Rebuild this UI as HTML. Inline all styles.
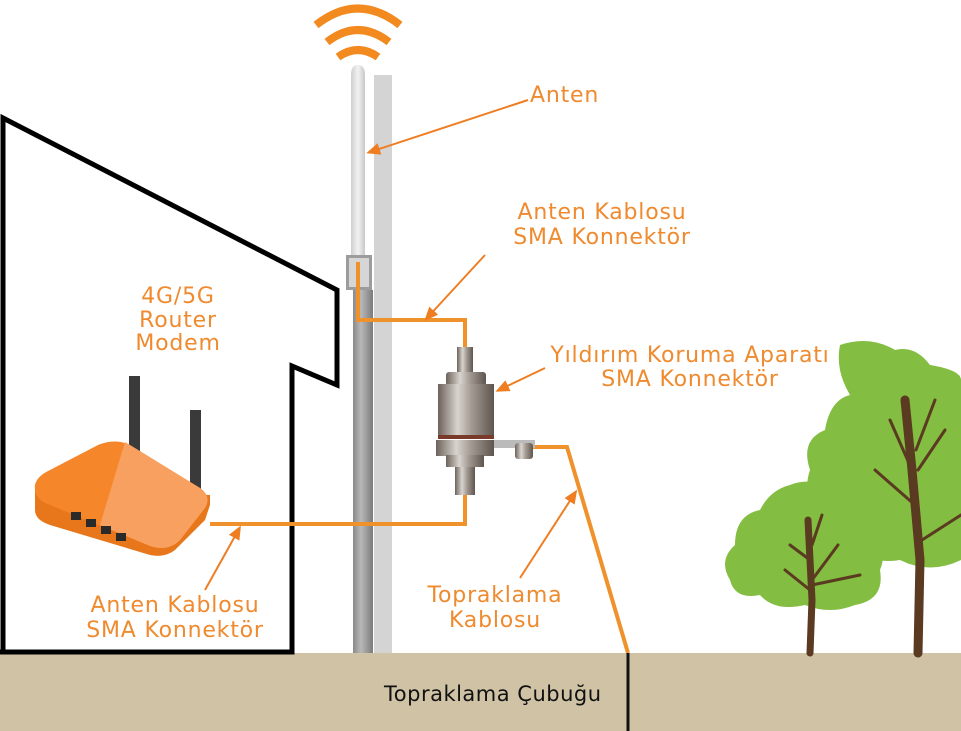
<!DOCTYPE html>
<html><head><meta charset="utf-8"><style>
html,body{margin:0;padding:0;background:#fff;width:961px;height:731px;overflow:hidden}
svg{display:block}
text{font-family:"DejaVu Sans","Liberation Sans",sans-serif}
.o{fill:#ef8a2e;font-size:22px;letter-spacing:0.8px}
</style></head><body>
<svg width="961" height="731" viewBox="0 0 961 731">
<defs>
<linearGradient id="mast" x1="0" x2="1"><stop offset="0" stop-color="#8a8a8a"/><stop offset="0.4" stop-color="#b8b8b8"/><stop offset="0.7" stop-color="#9a9a9a"/><stop offset="1" stop-color="#7a7a7a"/></linearGradient>
<linearGradient id="ant" x1="0" x2="1"><stop offset="0" stop-color="#cfcfcf"/><stop offset="0.5" stop-color="#f2f2f2"/><stop offset="1" stop-color="#c8c8c8"/></linearGradient>
<linearGradient id="steel" x1="0" x2="1"><stop offset="0" stop-color="#6d625a"/><stop offset="0.35" stop-color="#d8d4cf"/><stop offset="0.6" stop-color="#a39a92"/><stop offset="1" stop-color="#5e554f"/></linearGradient>
<marker id="ah" markerWidth="14" markerHeight="12" refX="10" refY="6" orient="auto" markerUnits="userSpaceOnUse" viewBox="0 0 14 12"><path d="M0,0 L14,6 L0,12 z" fill="#ef7d22"/></marker>
</defs>
<rect x="0" y="653" width="961" height="78" fill="#cfc2a5"/>
<polyline points="3,652 3,118 337,290 337,385 292,366 292,652 0,652" fill="none" stroke="#000" stroke-width="5"/>
<rect x="374" y="75" width="18" height="578" fill="#c9c9c9" opacity="0.8"/>
<rect x="353" y="290" width="20" height="363" fill="url(#mast)"/>
<path d="M351,255 L351,75 Q351,65 358,65 Q365,65 365,75 L365,255 z" fill="url(#ant)"/>
<rect x="346" y="255" width="26" height="35" fill="#9c9c9c"/>
<rect x="349" y="258" width="20" height="29" fill="#d6d6d6"/>
<g fill="none" stroke="#f28a1f" stroke-width="8">
<path d="M316,25 Q358,-8 400,25"/>
<path d="M327,42 Q358,18 389,42"/>
<path d="M338,57 Q358,43 378,57"/>
</g>
<g fill="none" stroke="#f0922c" stroke-width="4">
<polyline points="358,262 358,320 465,320 465,350"/>
<polyline points="465,495 465,524 210,524"/>
<polyline points="530,447 567,447 628,653"/>
</g>
<line x1="628" y1="653" x2="628" y2="731" stroke="#111" stroke-width="3"/>
<rect x="457" y="347" width="16" height="28" fill="url(#steel)"/>
<rect x="446" y="372" width="40" height="14" rx="3" fill="url(#steel)"/>
<rect x="438" y="384" width="56" height="52" fill="url(#steel)"/>
<rect x="438" y="435" width="56" height="4" fill="#7a3a2a"/>
<path d="M490,440 L535,440 L535,448 L490,448 z" fill="#bbb"/>
<rect x="515" y="443" width="18" height="16" rx="3" fill="url(#steel)"/>
<rect x="436" y="440" width="58" height="16" fill="url(#steel)"/>
<rect x="446" y="455" width="38" height="12" fill="url(#steel)"/>
<rect x="455" y="467" width="20" height="28" fill="url(#steel)"/>
<rect x="129" y="376" width="11" height="80" fill="#3a3a3a"/>
<rect x="190" y="410" width="11" height="80" fill="#3a3a3a"/>
<path d="M35,490 L35,510 Q35,520 50,525 L150,555 Q165,558 175,550 L205,520 L210,505 L210,495 Z" fill="#e8761a"/>
<path d="M35,490 Q33,478 50,470 L98,445 Q115,438 130,445 L200,488 Q212,497 205,508 L180,540 Q168,552 150,546 L50,505 Q36,500 35,490 z" fill="#f5862a"/>
<path d="M125,442 L200,488 Q212,497 205,508 L180,540 Q168,552 150,546 L100,525 Z" fill="#f8a060"/>
<g fill="#2a2a2a"><rect x="71" y="512" width="10" height="8"/><rect x="86" y="519" width="10" height="8"/><rect x="101" y="526" width="10" height="8"/><rect x="116" y="533" width="10" height="8"/></g>
<g fill="#83bd41">
<path d="M840,345 Q870,335 895,350 Q915,345 930,365 Q961,370 961,380 L961,560 Q930,575 900,560 Q870,565 850,545 Q820,540 825,510 Q800,500 810,470 Q800,440 825,430 Q830,400 850,395 Q835,370 840,345 z"/>
<path d="M790,485 Q815,475 835,495 Q860,500 870,525 Q890,545 880,570 Q885,600 855,605 Q830,615 805,605 Q775,612 760,595 Q735,600 730,580 Q718,560 735,545 Q735,515 760,510 Q770,490 790,485 z"/>
</g>
<g fill="none" stroke="#5a3a20" stroke-linecap="round">
<path d="M918,653 L920,560 L912,470 L905,400" stroke-width="9"/>
<path d="M915,505 L875,470 M912,470 L890,420 M918,470 L945,430 M922,540 L961,515 M916,450 L935,400" stroke-width="3"/>
<path d="M810,653 L812,600 L808,520" stroke-width="7"/>
<path d="M810,590 L785,570 M812,580 L838,545 M812,585 L860,575 M810,560 L790,545 M812,545 L822,515" stroke-width="3"/>
</g>
<g stroke="#ef7d22" stroke-width="2" fill="none" marker-end="url(#ah)">
<line x1="528" y1="100" x2="370" y2="152"/>
<line x1="485" y1="255" x2="427" y2="318"/>
<line x1="545" y1="368" x2="499" y2="390"/>
<line x1="205" y1="590" x2="239" y2="529"/>
<line x1="520" y1="578" x2="575" y2="493"/>
</g>
<text class="o" x="530" y="102">Anten</text>
<text class="o" x="602" y="219" text-anchor="middle">Anten Kablosu</text>
<text class="o" x="602" y="244" text-anchor="middle">SMA Konnektör</text>
<text class="o" x="178" y="303" text-anchor="middle">4G/5G</text>
<text class="o" x="178" y="327" text-anchor="middle">Router</text>
<text class="o" x="178" y="350" text-anchor="middle">Modem</text>
<text class="o" x="690" y="362" text-anchor="middle">Yıldırım Koruma Aparatı</text>
<text class="o" x="690" y="386" text-anchor="middle">SMA Konnektör</text>
<text class="o" x="175" y="612" text-anchor="middle">Anten Kablosu</text>
<text class="o" x="175" y="637" text-anchor="middle">SMA Konnektör</text>
<text class="o" x="495" y="602" text-anchor="middle">Topraklama</text>
<text class="o" x="495" y="627" text-anchor="middle">Kablosu</text>
<text x="384" y="701" font-size="21" fill="#111" letter-spacing="0.5">Topraklama Çubuğu</text>
</svg>
</body></html>
